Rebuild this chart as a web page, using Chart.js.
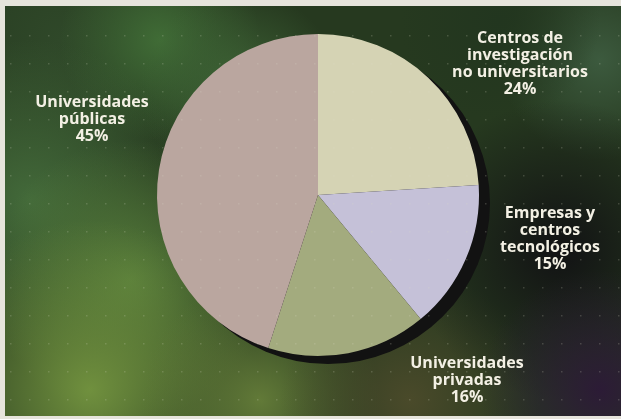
<!DOCTYPE html>
<html>
<head>
<meta charset="utf-8">
<script src="https://cdn.jsdelivr.net/npm/chart.js@4.4.1/dist/chart.umd.min.js"></script>
<style>
    html, body { margin: 0; padding: 0; background: #1c2a1c; }
    #wrap { width: 621px; height: 419px; position: relative; }
</style>
</head>
<body>
<div id="wrap"><canvas id="pie"></canvas></div>
<script>
// Data
const categories = [
    'Centros de investigación no universitarios',
    'Empresas y centros tecnológicos',
    'Universidades privadas',
    'Universidades públicas',
];
const shares = [24, 15, 16, 45];
const labelLines = [
    ['Centros de', 'investigación', 'no universitarios'],
    ['Empresas y', 'centros', 'tecnológicos'],
    ['Universidades', 'privadas'],
    ['Universidades', 'públicas'],
];
const sliceColors = ['#d5d3b4', '#c5c1d8', '#a3ab7e', '#baa69f'];

// Where each label block sits (centre x, first line y)
const LABEL_POS = [
    { x: 520, y: 38 },
    { x: 550, y: 213 },
    { x: 467, y: 363 },
    { x: 92, y: 102 },
];

// Painted backdrop: dark green with soft blotches
const backdrop = {
    id: 'backdrop',
    beforeDraw(chart) {
        const { ctx, width, height } = chart;
        ctx.save();
        ctx.fillStyle = '#26391f';
        ctx.fillRect(0, 0, width, height);

        const blobs = [
            [60, 40, 160, '#2f4829'],
            [160, 40, 100, '#406c36'],
            [30, 200, 160, '#436a3a'],
            [130, 280, 140, '#567c3a'],
            [90, 390, 170, '#70903e'],
            [260, 400, 120, '#627a38'],
            [240, 90, 100, '#3e6436'],
            [410, 400, 130, '#4a4a2a'],
            [600, 60, 100, '#3c5a3e'],
            [500, 20, 100, '#22361f'],
            [560, 250, 150, '#121214'],
            [600, 390, 120, '#2c1b36'],
        ];
        blobs.forEach(([x, y, r, c]) => {
            const g = ctx.createRadialGradient(x, y, 0, x, y, r);
            g.addColorStop(0, c);
            g.addColorStop(1, c + '00');
            ctx.fillStyle = g;
            ctx.fillRect(0, 0, width, height);
        });

        // paper edge
        ctx.fillStyle = '#e6e4dc';
        ctx.fillRect(0, 0, width, 6);
        ctx.fillRect(0, 0, 5, height);
        ctx.fillRect(0, height - 3, width, 3);
        ctx.restore();
    },
};

// Dark drop shadow behind the pie, offset down-right
const pieShadow = {
    id: 'pieShadow',
    beforeDatasetsDraw(chart) {
        const arc = chart.getDatasetMeta(0).data[0];
        if (!arc) return;
        const { ctx } = chart;
        ctx.save();
        ctx.fillStyle = '#121212';
        ctx.beginPath();
        ctx.ellipse(arc.x + 10, arc.y + 8, arc.outerRadius + 1, arc.outerRadius, 0, 0, Math.PI * 2);
        ctx.fill();
        ctx.restore();
    },
};

// Faint dotted rows of the print screen
const dots = {
    id: 'dots',
    afterDatasetsDraw(chart) {
        const { ctx, width, height } = chart;
        ctx.save();
        ctx.fillStyle = 'rgba(220, 220, 200, 0.2)';
        for (let y = 35; y < height; y += 28) {
            for (let x = 10; x < width; x += 19) {
                ctx.fillRect(x, y, 1.5, 1.5);
            }
        }
        ctx.restore();
    },
};

// Multi-line bold labels with percentage
const sliceLabels = {
    id: 'sliceLabels',
    afterDraw(chart) {
        const { ctx } = chart;
        ctx.save();
        ctx.fillStyle = '#f3f0e4';
        ctx.font = 'bold 16px "Open Sans"';
        ctx.textAlign = 'center';
        ctx.textBaseline = 'middle';
        labelLines.forEach((lines, i) => {
            const pos = LABEL_POS[i];
            const all = [...lines, shares[i] + '%'];
            all.forEach((t, j) => ctx.fillText(t, pos.x, pos.y + j * 17));
        });
        ctx.restore();
    },
};

new Chart(document.getElementById('pie'), {
    type: 'pie',
    data: {
        labels: categories,
        datasets: [{
            data: shares,
            backgroundColor: sliceColors,
            borderWidth: 0,
        }],
    },
    options: {
        responsive: true,
        maintainAspectRatio: false,
        animation: false,
        layout: { padding: { top: 34, bottom: 63, left: 100, right: 85 } },
        plugins: {
            legend: { display: false },
            tooltip: { enabled: false },
        },
    },
    plugins: [backdrop, pieShadow, dots, sliceLabels],
});
</script>
</body>
</html>
